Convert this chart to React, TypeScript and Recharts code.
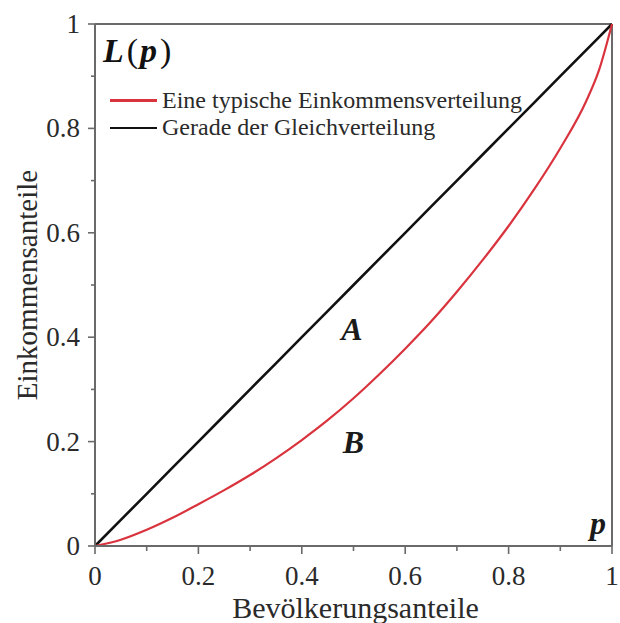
import React from 'react';
import { LineChart, Line, XAxis, YAxis, ReferenceLine, ReferenceDot, Legend } from 'recharts';

// Bevölkerungsanteile (population shares)
const populationShares = [0, 0.05, 0.1, 0.15, 0.2, 0.25, 0.3, 0.35, 0.4, 0.45, 0.5, 0.55, 0.6, 0.65, 0.7, 0.75, 0.8, 0.85, 0.9, 0.95, 0.975, 1];
// Einkommensanteile of the typical income distribution (Lorenz curve)
const incomeShares = [0, 0.012, 0.031, 0.054, 0.08, 0.107, 0.136, 0.168, 0.203, 0.241, 0.283, 0.329, 0.378, 0.43, 0.487, 0.548, 0.613, 0.684, 0.762, 0.852, 0.912, 1];
// Line of equal distribution
const equalityShares = [0, 0.05, 0.1, 0.15, 0.2, 0.25, 0.3, 0.35, 0.4, 0.45, 0.5, 0.55, 0.6, 0.65, 0.7, 0.75, 0.8, 0.85, 0.9, 0.95, 0.975, 1];

const axisTicks = [0, 0.1, 0.2, 0.3, 0.4, 0.5, 0.6, 0.7, 0.8, 0.9, 1];
const tickLabels = ['0', '0.2', '0.4', '0.6', '0.8', '1'];
const seriesNames = ['Eine typische Einkommensverteilung', 'Gerade der Gleichverteilung'];
const seriesColors = ['#d9343e', '#111111'];

const data = populationShares.map((p, i) => ({ p, lorenz: incomeShares[i], equal: equalityShares[i] }));

const SERIF = '"Liberation Serif", "Times New Roman", serif';
const AXIS = '#6a6a6a';
const TEXT = '#2a2a2a';

const labelFor = (v: number) => {
  const idx = Math.round(v * 10);
  return idx % 2 === 0 ? tickLabels[idx / 2] : null;
};

const XTick = (props: any) => {
  const { x, y, payload } = props;
  const lab = labelFor(payload.value);
  const len = lab ? 8 : 5;
  return (
    <g>
      <line x1={x} y1={y} x2={x} y2={y + len} stroke={AXIS} strokeWidth={1.6} />
      {lab && (
        <text x={x} y={y + 39} textAnchor="middle" fontSize={27} fontFamily={SERIF} fill={TEXT}>
          {lab}
        </text>
      )}
    </g>
  );
};

const YTick = (props: any) => {
  const { x, y, payload } = props;
  const lab = labelFor(payload.value);
  const len = lab ? 7 : 4;
  return (
    <g>
      <line x1={x - len} y1={y} x2={x} y2={y} stroke={AXIS} strokeWidth={1.6} />
      {lab && (
        <text x={x - 15} y={y} textAnchor="end" dominantBaseline="central" fontSize={27} fontFamily={SERIF} fill={TEXT}>
          {lab}
        </text>
      )}
    </g>
  );
};

const YTitle = (props: any) => {
  const vb = props.viewBox || { x: 0, y: 24, width: 95, height: 522 };
  const x = vb.x + 37;
  const cy = vb.y + vb.height / 2;
  return (
    <text x={x} y={cy} transform={`rotate(-90 ${x} ${cy})`} textAnchor="middle" fontSize={29} fontFamily={SERIF} fill={TEXT}>
      Einkommensanteile
    </text>
  );
};

const XTitle = (props: any) => {
  const vb = props.viewBox || { x: 95, y: 546, width: 517, height: 77 };
  return (
    <text x={vb.x + vb.width / 2 + 2} y={vb.y + 72} textAnchor="middle" fontSize={30} fontFamily={SERIF} fill={TEXT}>
      Bevölkerungsanteile
    </text>
  );
};

const dotPos = (props: any) => {
  const vb = props.viewBox || {};
  const cx = (vb.x ?? 0) + (vb.width ?? 0) / 2;
  const cy = (vb.y ?? 0) + (vb.height ?? 0) / 2;
  return { cx, cy };
};

const LpLabel = (props: any) => {
  const { cx, cy } = dotPos(props);
  return (
    <text x={cx} y={cy} fontSize={34} fontFamily={SERIF} fill="#111">
      <tspan fontWeight="bold" fontStyle="italic">L</tspan>
      <tspan dx={3}>(</tspan>
      <tspan dx={2} fontWeight="bold" fontStyle="italic">p</tspan>
      <tspan dx={3}>)</tspan>
    </text>
  );
};

const makeLetter = (letter: string) => (props: any) => {
  const { cx, cy } = dotPos(props);
  return (
    <text x={cx} y={cy} textAnchor="middle" fontSize={32} fontWeight="bold" fontStyle="italic" fontFamily={SERIF} fill="#1a1a1a">
      {letter}
    </text>
  );
};

const LegendBox = () => (
  <div style={{ fontFamily: SERIF, fontSize: 24, color: TEXT }}>
    {seriesNames.map((n, i) => (
      <div key={n} style={{ display: 'flex', alignItems: 'center', height: 27.3 }}>
        <span style={{ display: 'inline-block', width: 47, height: 2.5, background: seriesColors[i], marginRight: 5 }} />
        <span style={{ lineHeight: '27px', whiteSpace: 'nowrap' }}>{n}</span>
      </div>
    ))}
  </div>
);

export default function App() {
  return (
    <div style={{ position: 'absolute', left: 0, top: 0, background: '#fff' }}>
      <LineChart width={620} height={623} data={data} margin={{ top: 24, right: 8, bottom: 0, left: 0 }}>
        <XAxis
          dataKey="p"
          type="number"
          domain={[0, 1]}
          ticks={axisTicks}
          interval={0}
          tickSize={0}
          tickMargin={0}
          tickLine={false}
          tick={XTick}
          axisLine={{ stroke: AXIS, strokeWidth: 2 }}
          height={77}
          label={XTitle}
        />
        <YAxis
          type="number"
          domain={[0, 1]}
          ticks={axisTicks}
          interval={0}
          tickSize={0}
          tickMargin={0}
          tickLine={false}
          tick={YTick}
          axisLine={{ stroke: AXIS, strokeWidth: 2 }}
          width={95}
          label={YTitle}
        />
        <ReferenceLine y={1} stroke={AXIS} strokeWidth={2} />
        <ReferenceLine x={1} stroke={AXIS} strokeWidth={2} />
        <Line type="linear" dataKey="equal" stroke={seriesColors[1]} strokeWidth={2.6} dot={false} isAnimationActive={false} />
        <Line type="monotone" dataKey="lorenz" stroke={seriesColors[0]} strokeWidth={2.2} dot={false} isAnimationActive={false} />
        <ReferenceDot x={0.0155} y={0.927} r={0} fill="none" stroke="none" label={LpLabel} />
        <ReferenceDot x={0.497} y={0.395} r={0} fill="none" stroke="none" label={makeLetter('A')} />
        <ReferenceDot x={0.5} y={0.178} r={0} fill="none" stroke="none" label={makeLetter('B')} />
        <ReferenceDot x={0.973} y={0.023} r={0} fill="none" stroke="none" label={makeLetter('p')} />
        <Legend
          layout="horizontal"
          verticalAlign="middle"
          align="center"
          content={LegendBox}
          wrapperStyle={{ left: 110, top: 87, width: 'auto', height: 'auto' }}
        />
      </LineChart>
    </div>
  );
}
